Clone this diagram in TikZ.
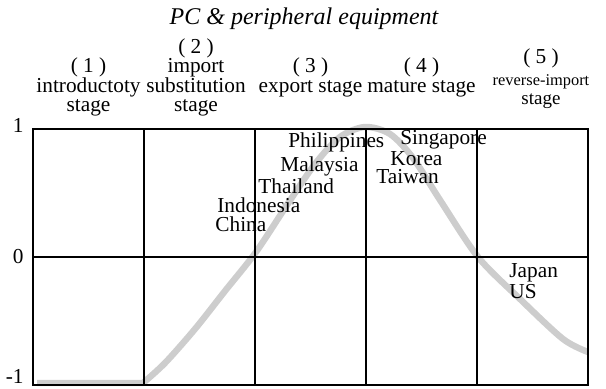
\documentclass[tikz,border=0pt]{standalone}
\usepackage{fontspec}
\setmainfont{Liberation Serif}
\definecolor{curvegray}{RGB}{205,205,205}

\begin{document}
\begin{tikzpicture}[x=0.5pt, y=-0.5pt,
    grid/.style={draw, line width=0.8pt},
    curve/.style={draw=curvegray, line width=3.2pt, line join=round},
    stagehead/.style={align=center, inner sep=0pt, anchor=south, font=\fontsize{10.65}{9.75}\selectfont},
    headline/.style={anchor=base, inner sep=0pt},
    country/.style={anchor=base west, inner sep=0pt, font=\fontsize{10.65}{12}\selectfont},
    axislabel/.style={anchor=base east, inner sep=0pt, font=\fontsize{10.65}{12}\selectfont}]
    \useasboundingbox (0,0) rectangle (606,389);
        \draw[curve] (37,383) -- (143,383) -- plot[smooth, tension=0.5] coordinates {(143,383) (165,363) (195,329) (225,291) (256,252) (287,205) (315,164) (340,137) (365,127) (390,134) (413,158) (440,200) (478,257) (520,299) (563,339) (588,352)};
        \draw[grid] (33,129) rectangle (588,385);
        \foreach \x in {144,255,366,477}
            \draw[grid] (\x,129) -- (\x,385);
        \draw[grid] (33,257) -- (588,257);
        \node[anchor=base, inner sep=0pt, font=\itshape\fontsize{12}{14}\selectfont] (title) at (304,25) {PC \& peripheral equipment};
        \node[stagehead] (s1) at (88.5,116.6) {( 1 )\\introductoty\\stage};
        \node[stagehead] (s2) at (196,116.6) {( 2 )\\import\\substitution\\stage};
        \node[stagehead] (s3) at (310.5,97.1) {( 3 )\\export stage};
        \node[stagehead] (s4) at (421.5,97.1) {( 4 )\\mature stage};
        \node[headline, font=\fontsize{10.65}{12}\selectfont] (s5) at (541,64) {( 5 )};
        \node[headline, font=\fontsize{8.2}{9.5}\selectfont] (s5a) at (541,86) {reverse-import};
        \node[headline, font=\fontsize{9.5}{10}\selectfont] (s5b) at (541,105) {stage};
        \node[axislabel] (ytop) at (24,133) {1};
        \node[axislabel] (ymid) at (24,264) {0};
        \node[axislabel] (ybot) at (24,384) {-1};
        \node[country] (phl) at (288,148) {Philippines};
        \node[country] (mys) at (280,172) {Malaysia};
        \node[country] (tha) at (258,194) {Thailand};
        \node[country] (idn) at (217,213) {Indonesia};
        \node[country] (chn) at (215,232) {China};
        \node[country] (sgp) at (400,145) {Singapore};
        \node[country] (kor) at (390,166) {Korea};
        \node[country] (twn) at (376,184) {Taiwan};
        \node[country] (jpn) at (509,278) {Japan};
        \node[country] (usa) at (509,299) {US};
    \end{tikzpicture}
\end{document}
